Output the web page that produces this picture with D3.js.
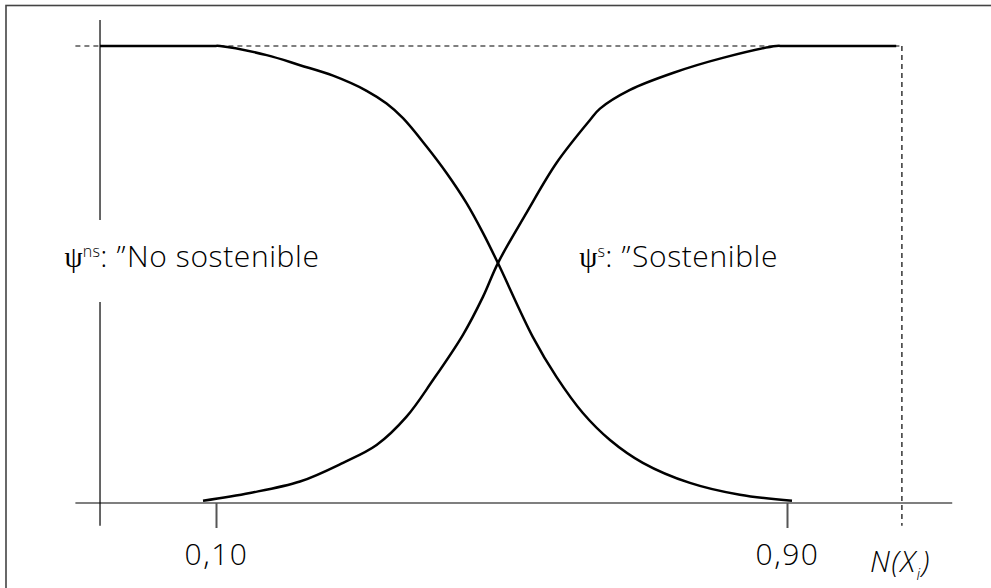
<!DOCTYPE html>
<html>
<head>
<meta charset="utf-8">
<script src="https://cdn.jsdelivr.net/npm/d3@7"></script>
<style>
  body { margin: 0; background: #fff; }
  svg { display: block; }
  .lbl { font-family: "Open Sans", "Noto Sans", sans-serif; font-weight: 300; font-size: 30px; letter-spacing: 0.6px; fill: #000; }
</style>
</head>
<body>
<div id="chart"></div>
<script>
var svgWidth = 991;
var svgHeight = 588;

// degree of membership: psi^ns (no sostenible) and psi^s (sostenible)
var nsX = [-0.0625, 0.095, 0.1056, 0.171, 0.2177, 0.264, 0.311, 0.339, 0.362, 0.395, 0.423, 0.451, 0.474, 0.495, 0.544, 0.577, 0.614, 0.652, 0.698, 0.764, 0.834, 0.907];
var nsY = [1, 1, 1, 0.980, 0.958, 0.935, 0.902, 0.874, 0.842, 0.780, 0.722, 0.656, 0.591, 0.525, 0.363, 0.276, 0.197, 0.138, 0.088, 0.044, 0.018, 0.005];
var sX = [0.0818, 0.1476, 0.2177, 0.278, 0.325, 0.367, 0.404, 0.446, 0.474, 0.495, 0.535, 0.577, 0.624, 0.638, 0.680, 0.740, 0.810, 0.885, 0.895, 1.053];
var sY = [0.005, 0.022, 0.047, 0.088, 0.127, 0.189, 0.269, 0.368, 0.451, 0.525, 0.635, 0.744, 0.838, 0.863, 0.904, 0.941, 0.974, 1, 1, 1];
var tickVals = [0.1, 0.9];
var tickLabels = ["0,10", "0,90"];

var xMin = -0.097, yAxisX = -0.0625, nMax = 1.061, xEnd = 1.1315;

var svg = d3.select("#chart")
  .append("svg")
  .attr("width", svgWidth)
  .attr("height", svgHeight);

// frame
svg.append("rect")
  .attr("x", 6).attr("y", 5.5)
  .attr("width", 1000).attr("height", 600)
  .attr("fill", "none")
  .attr("stroke", "#444")
  .attr("stroke-width", 1.6);

var x = d3.scaleLinear().domain([0.1, 0.9]).range([216, 787]);
var y = d3.scaleLinear().domain([0, 1]).range([503, 46]);

// x axis
svg.append("line")
  .attr("x1", x(xMin)).attr("x2", x(xEnd))
  .attr("y1", y(0)).attr("y2", y(0))
  .attr("stroke", "#000").attr("stroke-width", 1.2);

var xAxis = d3.axisBottom(x)
  .tickValues(tickVals)
  .tickSize(25)
  .tickFormat(function(d, i) { return tickLabels[i]; });

var gx = svg.append("g")
  .attr("transform", `translate(0, ${y(0)})`)
  .call(xAxis);
gx.select(".domain").remove();
gx.selectAll(".tick line").attr("stroke", "#555").attr("stroke-width", 2);
gx.selectAll(".tick text")
  .attr("class", "lbl")
  .attr("dy", null)
  .attr("y", 62)
  .style("letter-spacing", "1.5px")
  .attr("fill", "#000");

// y axis (split around label)
[[1.057, 0.619], [0.44, -0.05]].forEach(function(s) {
  svg.append("line")
    .attr("x1", x(yAxisX)).attr("x2", x(yAxisX))
    .attr("y1", y(s[0])).attr("y2", y(s[1]))
    .attr("stroke", "#000").attr("stroke-width", 1.2);
});

// dashed guides
svg.append("line")
  .attr("x1", x(xMin)).attr("x2", x(nMax))
  .attr("y1", y(1)).attr("y2", y(1))
  .attr("stroke", "#000").attr("stroke-width", 1.2)
  .attr("stroke-dasharray", "5,4");
svg.append("line")
  .attr("x1", x(nMax)).attr("x2", x(nMax))
  .attr("y1", y(1)).attr("y2", y(-0.05))
  .attr("stroke", "#000").attr("stroke-width", 1.2)
  .attr("stroke-dasharray", "5,4");

var line = d3.line()
  .x(d => x(d[0]))
  .y(d => y(d[1]))
  .curve(d3.curveCatmullRom.alpha(0.5));

svg.append("path")
  .datum(d3.zip(nsX, nsY))
  .attr("d", line)
  .attr("fill", "none").attr("stroke", "#000").attr("stroke-width", 2.5);

svg.append("path")
  .datum(d3.zip(sX, sY))
  .attr("d", line)
  .attr("fill", "none").attr("stroke", "#000").attr("stroke-width", 2.5);

// labels: prefix "ψ^sup: ”" right-aligned, then the name
function psiLabel(px, sup, name) {
  var p = svg.append("text").attr("class", "lbl")
    .attr("x", px - 1).attr("y", 267)
    .attr("text-anchor", "end");
  p.append("tspan").text("ψ")
    .style("font-family", "'Liberation Serif', serif").style("font-weight", "400")
    .style("font-size", "29px").style("letter-spacing", "0px");
  p.append("tspan").text(sup)
    .attr("dy", -10).style("font-size", "16px").style("letter-spacing", "0.3px");
  p.append("tspan").text(": \u201D").attr("dy", 10);
  svg.append("text").attr("class", "lbl")
    .attr("x", px).attr("y", 267)
    .text(name);
}
psiLabel(127, "ns", "No sostenible");
psiLabel(632, "s", "Sostenible");

var nx = svg.append("text")
  .attr("x", 870).attr("y", 572)
  .style("font-family", "'Open Sans', sans-serif")
  .style("font-style", "italic")
  .style("font-weight", "300")
  .style("letter-spacing", "1.5px")
  .style("font-size", "29px");
nx.append("tspan").text("N(X");
nx.append("tspan").text("i").attr("dy", 8).style("font-size", "16px");
nx.append("tspan").text(")").attr("dy", -8);
</script>
</body>
</html>
